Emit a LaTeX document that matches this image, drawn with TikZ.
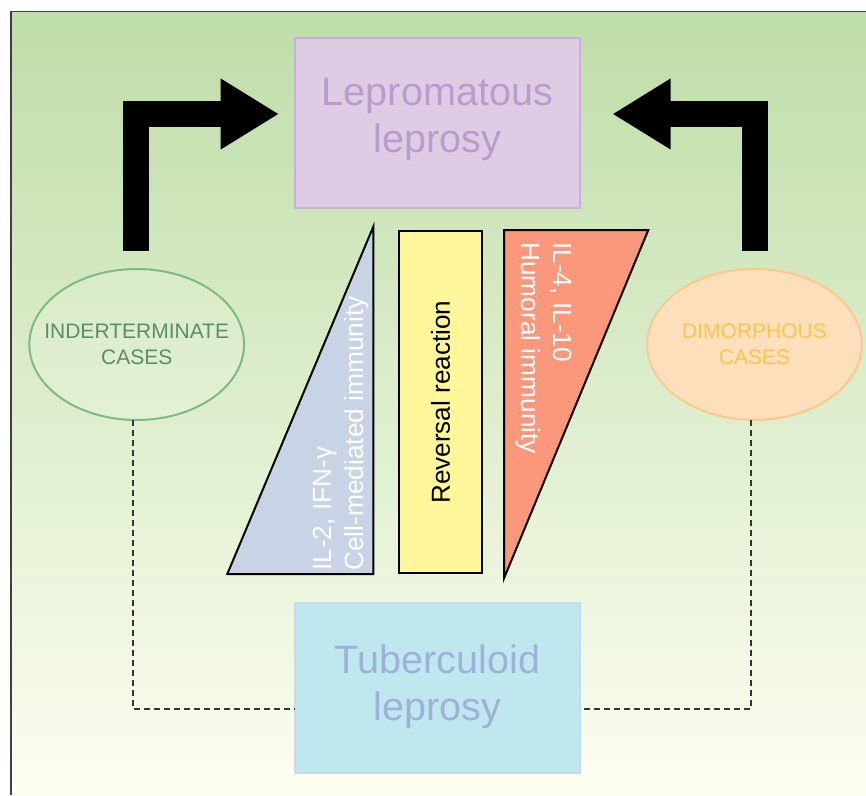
\documentclass[tikz,border=0pt]{standalone}
\usepackage{fontspec}
\setmainfont{Liberation Sans}
\usetikzlibrary{arrows.meta,shapes.geometric,calc}
\definecolor{bgtop}{RGB}{190,221,168}
\definecolor{bgbot}{RGB}{253,254,240}
\definecolor{framecol}{RGB}{64,64,64}
\definecolor{lepfill}{RGB}{223,204,228}
\definecolor{lepdraw}{RGB}{201,176,219}
\definecolor{leptext}{RGB}{184,156,204}
\definecolor{tubfill}{RGB}{191,231,238}
\definecolor{tubdraw}{RGB}{203,216,236}
\definecolor{tubtext}{RGB}{159,177,217}
\definecolor{inddraw}{RGB}{125,187,131}
\definecolor{indtext}{RGB}{90,143,98}
\definecolor{dimfill}{RGB}{253,224,187}
\definecolor{dimdraw}{RGB}{252,201,138}
\definecolor{dimtext}{RGB}{252,197,74}
\definecolor{cellfill}{RGB}{200,212,230}
\definecolor{humfill}{RGB}{251,151,122}
\definecolor{revfill}{RGB}{255,247,154}
\definecolor{dashgray}{RGB}{51,51,51}
\newcommand{\zw}[1]{\makebox[0pt][c]{#1}}
\begin{document}
\begin{tikzpicture}[x=1pt,y=-1pt,
  box/.style={draw, line width=2pt, minimum width=285pt, minimum height=170pt,
    inner sep=0pt, outer sep=0pt, align=center, font=\fontsize{39.6}{47}\selectfont},
  lepbox/.style={box, fill=lepfill, draw=lepdraw, text=leptext},
  tubbox/.style={box, fill=tubfill, draw=tubdraw, text=tubtext},
  casebox/.style={ellipse, draw, line width=2pt, minimum width=214.7pt, minimum height=151pt,
    inner sep=0pt, outer sep=0pt, align=center, font=\fontsize{21}{26}\selectfont},
  bigarrow/.style={line width=26.6pt, line join=miter, line cap=butt,
    -{Triangle[length=58.3pt,width=66.6pt]}},
  dashline/.style={draw=dashgray, line width=1.1pt, dash pattern=on 6pt off 4pt},
  wedge/.style={draw=black, line width=2pt, line join=miter},
  vlabel/.style={text=white, inner sep=0pt, align=left, font=\fontsize{26.3}{31.7}\selectfont},
  revbox/.style={draw=black, fill=revfill, line width=2pt, inner sep=0pt,
    font=\fontsize{26.1}{31}\selectfont}
]
\useasboundingbox (0,0) rectangle (866,795);
% background panel
\shade[top color=bgtop, bottom color=bgbot] (11,11.5) rectangle (866,795);
\draw[framecol, line width=1.5pt] (11,795) -- (11,11.5) -- (866,11.5);

% main boxes
\node[lepbox] (lep) at (437.5,122.7) {Lepromatous\\leprosy\rule[-14.8pt]{0pt}{14.8pt}};
\node[tubbox] (tub) at (437.5,688) {Tuberculoid\\leprosy\rule[-11.1pt]{0pt}{11.1pt}};

% case ellipses
\node[casebox, draw=inddraw, fill=white, fill opacity=0.15, text opacity=1, text=indtext]
  (ind) at (136.7,344.5) {\zw{INDERTERMINATE}\\\zw{CASES}};
\node[casebox, draw=dimdraw, fill=dimfill, text=dimtext]
  (dim) at (754.5,344.5) {\zw{DIMORPHOUS}\\\zw{CASES}};

% dashed links to tuberculoid
\coordinate (d1) at (133,420);
\coordinate (d2) at (751,420);
\draw[dashline] (d1) |- ([yshift=-21pt]tub.west);
\draw[dashline] (d2) |- ([yshift=-21pt]tub.east);

% big arrows to lepromatous
\coordinate (a1) at (136,250.7);
\coordinate (a2) at (755,250.7);
\draw[bigarrow, shorten >=16pt] (a1) |- ([yshift=8.7pt]lep.west);
\draw[bigarrow, shorten >=32.3pt] (a2) |- ([yshift=8.7pt]lep.east);

% wedges
\draw[wedge, fill=cellfill] (227.3,574) -- (373.3,226.7) -- (373.3,574) -- cycle;
\node[vlabel, rotate=90, anchor=north west] (cell) at (312.8,571)
  {IL-2, IFN-γ\\Cell-mediated immunity};
\draw[wedge, fill=humfill] (504,230) -- (648.3,230) -- (504,578.3) -- cycle;
\node[vlabel, rotate=-90, anchor=north west] (hum) at (572.2,242)
  {IL-4, IL-10\\Humoral immunity};
\node[revbox, rotate=90, minimum width=342.3pt, minimum height=83pt] (rev) at (440.5,402.2)
  {Reversal reaction};
\end{tikzpicture}
\end{document}
